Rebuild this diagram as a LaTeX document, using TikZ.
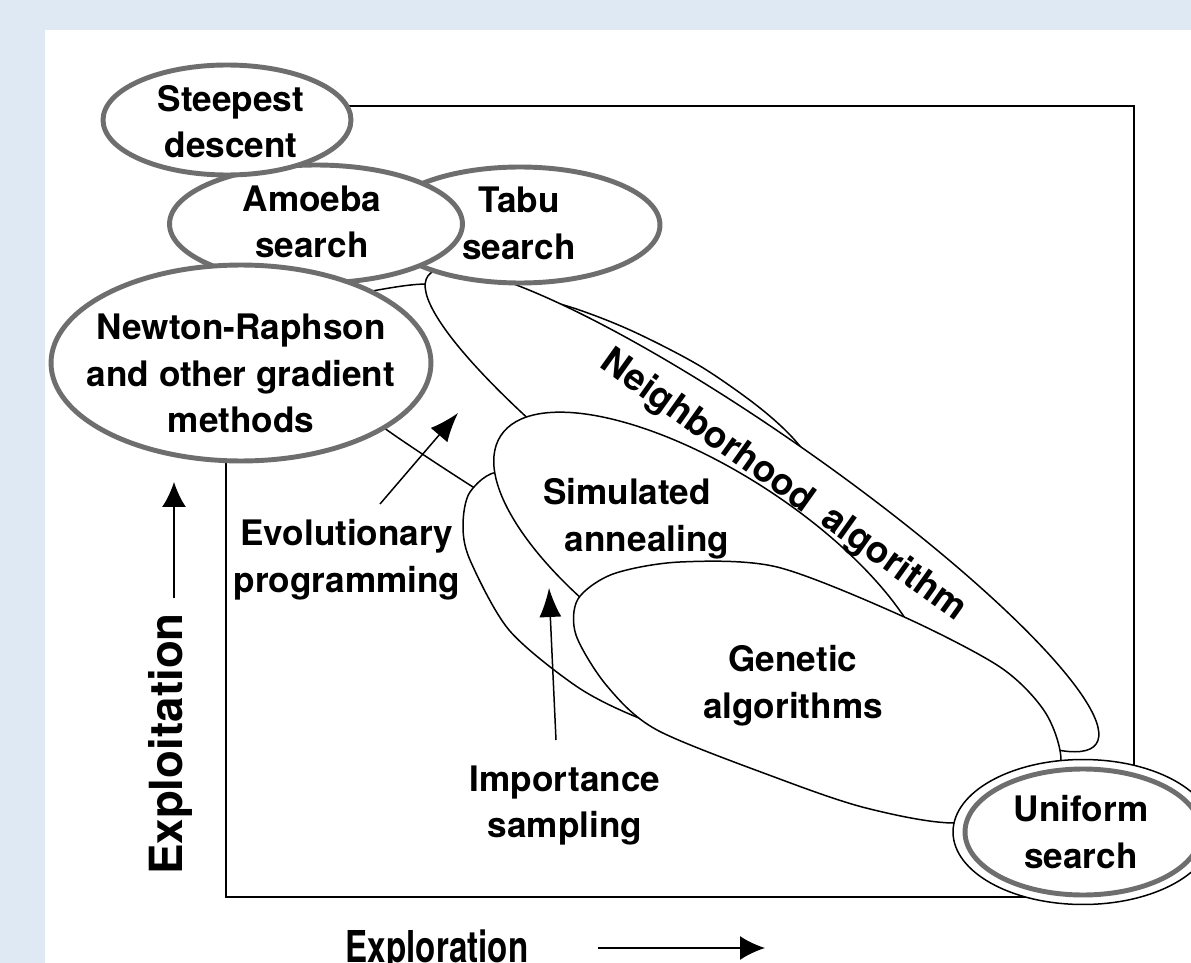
\documentclass[tikz,border=0pt]{standalone}
\usepackage{fontspec}
\setmainfont{TeX Gyre Heros}
\usepackage{graphicx}
\usetikzlibrary{shapes.geometric, arrows.meta}
\definecolor{paleblue}{RGB}{222,233,244}
\definecolor{ringgray}{RGB}{110,110,110}

\tikzset{
  ring/.style={ellipse, draw=ringgray, line width=2.8pt, fill=white, inner sep=0pt},
  zone/.style={ellipse, draw=black, line width=0.85pt, fill=white, inner sep=0pt},
  patch/.style={draw=black, line width=0.85pt, fill=white},
  lbl/.style={font=\fontsize{20}{26.5}\selectfont\bfseries, align=center, inner sep=0pt},
  pointer/.style={-{Latex[length=0.58cm,width=0.44cm]}, line width=0.85pt},
  axisarrow/.style={-{Latex[length=0.5cm,width=0.48cm]}, line width=1.1pt}
}

\begin{document}
\begin{tikzpicture}[x=0.02cm, y=-0.02cm]
\useasboundingbox (0,0) rectangle (1191,963);
% page
\fill[paleblue] (0,0) rectangle (1191,963);
\fill[white] (45,30) rectangle (1191,963);

% frame
\draw[line width=1.3pt] (226,106) rectangle (1134,897);

% Evolutionary programming region
\draw[patch] plot[smooth cycle] coordinates {(330,300) (372,291) (427,284) (500,291) (567,306) (630,330) (700,366) (760,408) (799,445) (835,500) (845,560) (800,605) (700,600) (600,560) (530,520) (473,487) (387,430) (345,395) (318,350)};

% Neighborhood algorithm
\node[zone, minimum width=16.32cm, minimum height=2.96cm, rotate=-35] (nbh) at (762,510) {};

% Importance sampling
\draw[patch] plot[smooth cycle] coordinates {(500,472) (470,492) (463,525) (470,560) (509,630) (576,686) (634,716) (700,738) (800,760) (850,700) (760,615) (650,555) (560,495)};

% Simulated annealing
\node[zone, minimum width=10.08cm, minimum height=4cm, rotate=-33] (sa) at (712,573) {};

% Genetic algorithms
\draw[patch] plot[smooth cycle] coordinates {(578,599) (613,574) (680,562) (777,567) (902,616) (1000,667) (1045,712) (1061,760) (1045,805) (956,823) (866,808) (777,778) (657,730) (607,686) (576,635)};

% Uniform search
\node[zone, minimum width=5.2cm, minimum height=2.9cm] (usouter) at (1083,832) {};
\node[ring, minimum width=4.72cm, minimum height=2.52cm] (us) at (1083,832) {};

% gray rings
\node[ring, minimum width=5.6cm, minimum height=2.32cm] (tabu) at (520,225) {};
\node[ring, minimum width=5.86cm, minimum height=2.36cm] (amoeba) at (316,224) {};
\node[ring, minimum width=4.96cm, minimum height=2.2cm] (steep) at (227,120) {};
\node[ring, minimum width=7.6cm, minimum height=3.92cm] (newton) at (241,363) {};

% labels
\node[lbl] (steeptxt) at (231,121.5) {Steepest\\descent};
\node[lbl] (amoebatxt) at (312,222) {Amoeba\\search};
\node[lbl] (tabutxt) at (519,223.5) {Tabu\\search};
\node[lbl] (newtontxt) at (241,373.5) {Newton-Raphson\\and other gradient\\methods};
\node[lbl] (evotxt) at (347,559.5) {Evolutionary\\programming};
\node[lbl] (satxt) at (647,519) {Simulated\hspace*{0.8cm}\\annealing};
\node[lbl] (gatxt) at (793,685.5) {Genetic\\algorithms};
\node[lbl] (istxt) at (565,805.5) {Importance\\sampling};
\node[lbl] (ustxt) at (1081,832) {Uniform\\search};
\node[lbl, font=\fontsize{21}{25}\selectfont\bfseries, rotate=-35.5] (nbhtxt) at (783,486) {Neighborhood\hspace{0.5em}algorithm};

% pointers
\coordinate (evoTail) at (380,504);
\coordinate (evoTip) at (458,413);
\coordinate (isTail) at (556,740);
\coordinate (isTip) at (549,588);
\draw[pointer] (evoTail) -- (evoTip);
\draw[pointer] (isTail) -- (isTip);

% axes
\node[font=\fontsize{26}{30}\selectfont\bfseries, rotate=90] (exploit) at (170,744) {Exploitation};
\node[font=\fontsize{25}{30}\selectfont\bfseries, anchor=base] (explore) at (437,962) {\scalebox{0.755}[1]{Exploration}};
\coordinate (upTail) at (174,598);
\coordinate (upTip) at (174,482);
\coordinate (rightTail) at (598,948);
\coordinate (rightTip) at (765,948);
\draw[axisarrow] (upTail) -- (upTip);
\draw[axisarrow] (rightTail) -- (rightTip);
\end{tikzpicture}
\end{document}
